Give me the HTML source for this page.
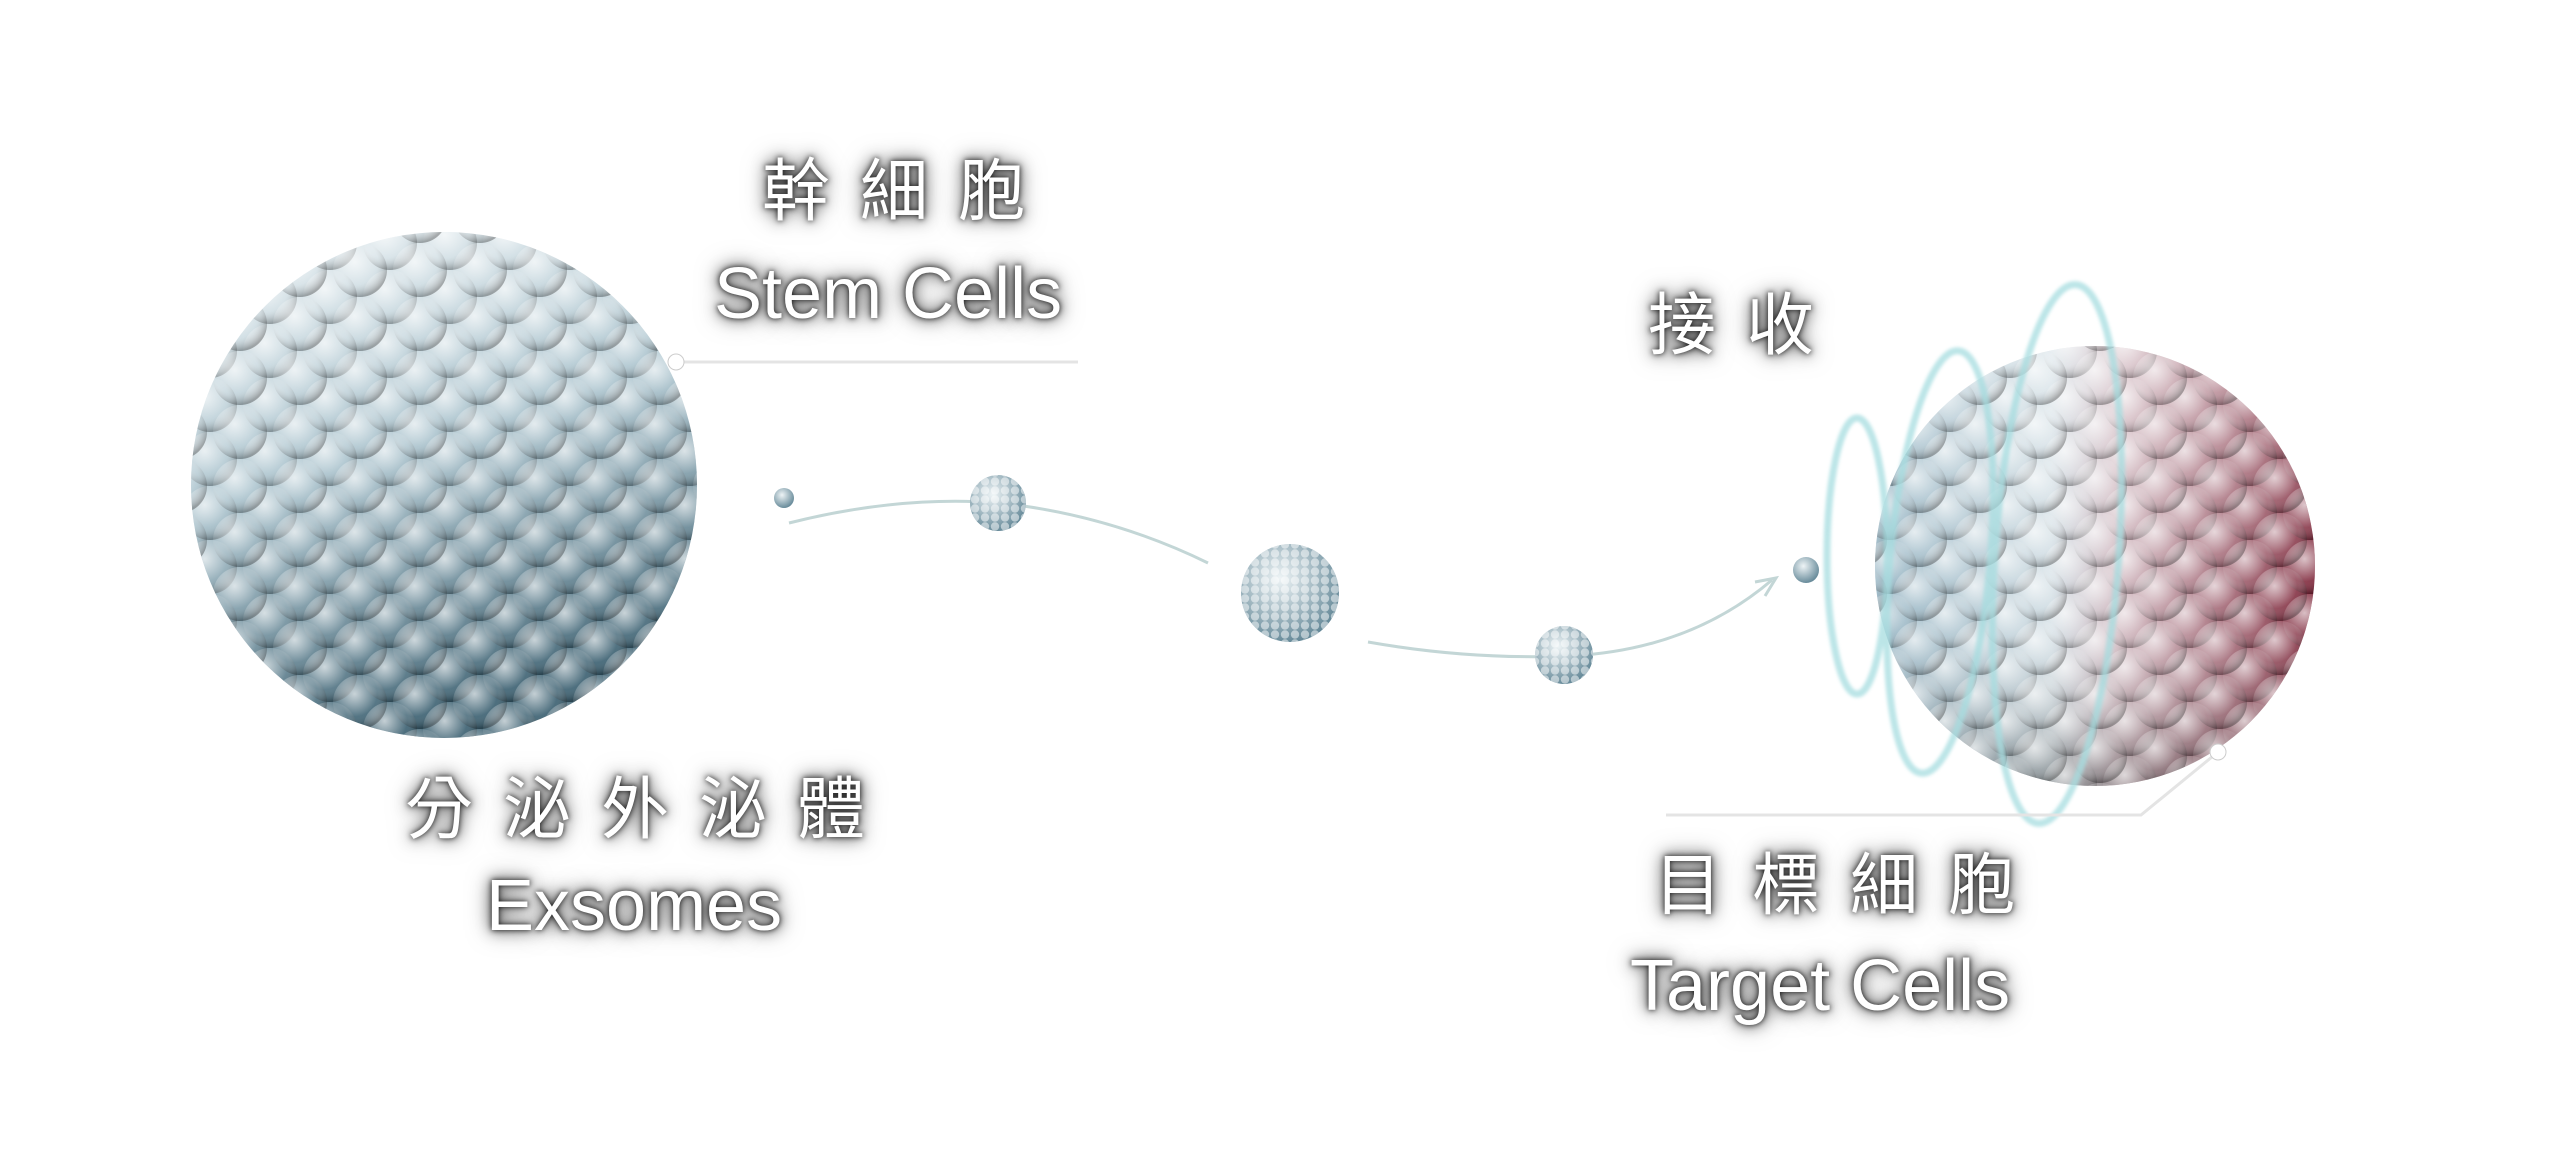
<!DOCTYPE html>
<html><head><meta charset="utf-8"><style>
html,body{margin:0;padding:0;background:#fff;}
body{width:2560px;height:1160px;position:relative;overflow:hidden;font-family:"Liberation Sans","Noto Sans CJK TC",sans-serif;}
.t{position:absolute;color:#fff;text-shadow:0 0 6px rgba(0,0,0,.9),0 0 14px rgba(0,0,0,.7),0 0 24px rgba(0,0,0,.5);white-space:nowrap;line-height:1;}
.cj{font-size:68px;letter-spacing:30px;}
.en{font-size:72px;letter-spacing:0px;}
svg{position:absolute;left:0;top:0;}
</style></head><body>
<svg width="2560" height="1160" viewBox="0 0 2560 1160">
<defs>
<pattern id="beadB" width="60" height="54" patternUnits="userSpaceOnUse">
<circle cx="30" cy="27" r="27" fill="url(#bg)"/><circle cx="0" cy="0" r="27" fill="url(#bg)"/><circle cx="60" cy="0" r="27" fill="url(#bg)"/><circle cx="0" cy="54" r="27" fill="url(#bg)"/><circle cx="60" cy="54" r="27" fill="url(#bg)"/>
</pattern>
<radialGradient id="bg" cx="40%" cy="35%" r="65%"><stop offset="0" stop-color="#fff" stop-opacity=".7"/><stop offset=".65" stop-color="#fff" stop-opacity=".1"/><stop offset="1" stop-color="#000" stop-opacity=".3"/></radialGradient>
<linearGradient id="lb" x1="0" y1="0" x2="0.3" y2="1"><stop offset="0" stop-color="#e8eff2"/><stop offset=".5" stop-color="#adc5cf"/><stop offset="1" stop-color="#3a5f70"/></linearGradient>
<linearGradient id="rb" x1="0" y1="0" x2="1" y2="0"><stop offset="0" stop-color="#94b3c2"/><stop offset=".4" stop-color="#d3dfe5"/><stop offset=".55" stop-color="#d3bcc3"/><stop offset="1" stop-color="#7a1f33"/></linearGradient>
<linearGradient id="rs" x1="0" y1="0" x2="0" y2="1"><stop offset="0" stop-color="#fff" stop-opacity=".3"/><stop offset=".6" stop-color="#fff" stop-opacity="0"/><stop offset="1" stop-color="#000" stop-opacity=".35"/></linearGradient>
<clipPath id="cl"><circle cx="444" cy="485" r="253"/></clipPath>
<clipPath id="cr"><circle cx="2095" cy="566" r="220"/></clipPath>
<pattern id="small" width="10" height="9" patternUnits="userSpaceOnUse"><circle cx="5" cy="4.5" r="4.2" fill="#fff" fill-opacity=".5"/></pattern>
<radialGradient id="sm" cx="40%" cy="35%" r="70%"><stop offset="0" stop-color="#eef4f6"/><stop offset="1" stop-color="#5f8494"/></radialGradient>
<filter id="blur"><feGaussianBlur stdDeviation="1.5"/></filter>
</defs>
<circle cx="444" cy="485" r="253" fill="url(#lb)"/>
<rect x="180" y="220" width="530" height="530" fill="url(#beadB)" clip-path="url(#cl)"/>
<circle cx="2095" cy="566" r="220" fill="url(#rb)"/>
<circle cx="2095" cy="566" r="220" fill="url(#rs)"/>
<rect x="1870" y="340" width="450" height="450" fill="url(#beadB)" clip-path="url(#cr)"/>
<g fill="none" stroke="#a6dde0" stroke-width="7" opacity=".75" filter="url(#blur)">
<ellipse cx="2057" cy="554" rx="62" ry="270" transform="rotate(4 2057 554)"/>
<ellipse cx="1940" cy="562" rx="50" ry="212" transform="rotate(5 1940 562)"/>
<ellipse cx="1857" cy="556" rx="30" ry="138"/>
</g>
<g fill="none" stroke="#c3d6d6" stroke-width="3">
<path d="M789 523 Q900 495 1000 503 Q1110 515 1208 563"/>
<path d="M1368 642 Q1470 660 1570 656 Q1690 650 1772 580"/>
<path d="M1755 582 L1776 578 L1765 596"/>
</g>
<circle cx="784" cy="498" r="10" fill="url(#sm)"/>
<circle cx="998" cy="503" r="28" fill="url(#sm)"/><circle cx="998" cy="503" r="28" fill="url(#small)"/>
<circle cx="1290" cy="593" r="49" fill="url(#sm)"/><circle cx="1290" cy="593" r="49" fill="url(#small)"/>
<circle cx="1564" cy="655" r="29" fill="url(#sm)"/><circle cx="1564" cy="655" r="29" fill="url(#small)"/>
<circle cx="1806" cy="570" r="13" fill="url(#sm)"/>
<g stroke="#e4e4e4" stroke-width="3" fill="none">
<line x1="676" y1="362" x2="1078" y2="362"/>
<polyline points="2218,752 2141,815 1666,815"/>
</g>
<circle cx="676" cy="362" r="8" fill="#fff" stroke="#ccc" stroke-width="1"/>
<circle cx="2218" cy="752" r="8" fill="#fff" stroke="#ccc" stroke-width="1"/>
</svg>
<div class="t cj" style="left:762px;top:158px;">幹細胞</div>
<div class="t en" style="left:714px;top:258px;">Stem Cells</div>
<div class="t cj" style="left:1648px;top:292px;">接收</div>
<div class="t cj" style="left:405px;top:776px;">分泌外泌體</div>
<div class="t en" style="left:486px;top:870px;">Exsomes</div>
<div class="t cj" style="left:1654px;top:852px;">目標細胞</div>
<div class="t en" style="left:1630px;top:950px;">Target Cells</div>
</body></html>
